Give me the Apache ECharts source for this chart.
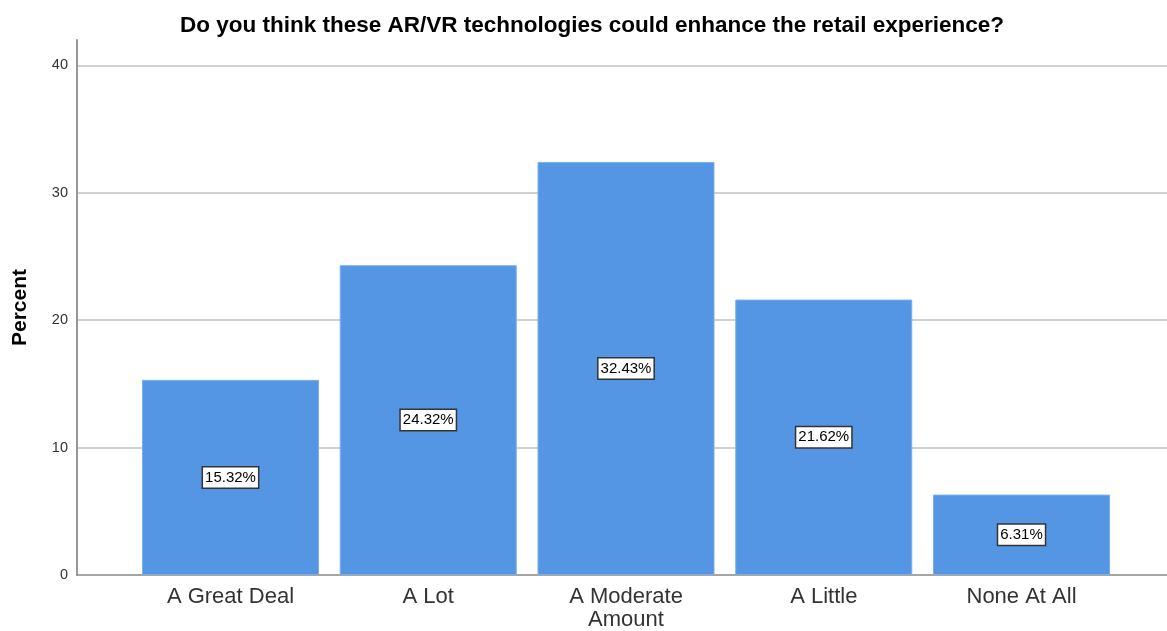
<!DOCTYPE html>
<html>
<head>
<meta charset="utf-8">
<script src="https://cdn.jsdelivr.net/npm/echarts@6/dist/echarts.min.js"></script>
<style>
  html, body { margin: 0; padding: 0; background: #fff; }
  #chart { width: 1167px; height: 631px; }
</style>
</head>
<body>
<div id="chart"></div>
<script>
// Survey responses: share of respondents per answer
const categories = ['A Great Deal', 'A Lot', 'A Moderate\nAmount', 'A Little', 'None At All'];
const percents = [15.32, 24.32, 32.43, 21.62, 6.31];
const yTicks = [0, 10, 20, 30, 40];

const FONT = '"Liberation Sans", Arial, sans-serif';
const Y_MAX = 42;

const chart = echarts.init(document.getElementById('chart'), null, { renderer: 'canvas' });

chart.setOption({
  animation: false,
  backgroundColor: '#ffffff',
  title: {
    text: 'Do you think these AR/VR technologies could enhance the retail experience?',
    left: 587,
    textAlign: 'center',
    top: 9,
    textStyle: { fontFamily: FONT, fontSize: 22.5, fontWeight: 'bold', color: '#000' }
  },
  grid: [
    // frame: y axis, gridlines and baseline across the full width
    { left: 77, right: 0, top: 40, bottom: 56 },
    // bars
    { left: 131.6, right: 46.6, top: 40, bottom: 56 }
  ],
  xAxis: [
    {
      gridIndex: 0,
      type: 'value',
      min: 0, max: 1,
      axisLine: { show: true, onZero: false, lineStyle: { color: '#888', width: 1.5 } },
      axisTick: { show: false },
      axisLabel: { show: false },
      splitLine: { show: false }
    },
    {
      gridIndex: 1,
      type: 'category',
      data: categories,
      axisLine: { show: false },
      axisTick: { show: false },
      axisLabel: {
        margin: 10,
        fontFamily: FONT,
        fontSize: 22,
        lineHeight: 23,
        color: '#333',
        interval: 0
      }
    }
  ],
  yAxis: [
    {
      gridIndex: 0,
      type: 'value',
      min: 0,
      max: Y_MAX,
      interval: 10,
      name: 'Percent',
      nameLocation: 'middle',
      nameGap: 46,
      nameRotate: 90,
      nameTextStyle: { fontFamily: FONT, fontSize: 21, fontWeight: 'bold', color: '#000' },
      axisLine: { show: true, lineStyle: { color: '#999', width: 2 } },
      axisTick: { show: false },
      axisLabel: {
        fontFamily: FONT,
        fontSize: 14.5,
        color: '#333',
        margin: 9,
        formatter: v => (yTicks.indexOf(v) >= 0 ? String(v) : '')
      },
      splitLine: {
        show: true,
        showMinLine: false,
        showMaxLine: false,
        lineStyle: { color: '#d0d0d0', width: 2 }
      }
    },
    {
      gridIndex: 1,
      type: 'value',
      min: 0,
      max: Y_MAX,
      show: false,
      splitLine: { show: false }
    }
  ],
  series: [
    {
      type: 'bar',
      xAxisIndex: 1,
      yAxisIndex: 1,
      data: percents,
      barWidth: 177,
      itemStyle: { color: '#5596e4', borderColor: '#7aaeec', borderWidth: 1 },
      label: {
        show: true,
        position: 'inside',
        formatter: p => p.value.toFixed(2) + '%',
        fontFamily: FONT,
        fontSize: 15,
        color: '#000',
        backgroundColor: '#fff',
        borderColor: '#333',
        borderWidth: 1.5,
        padding: [3, 2, 2, 2]
      }
    }
  ]
});
</script>
</body>
</html>
